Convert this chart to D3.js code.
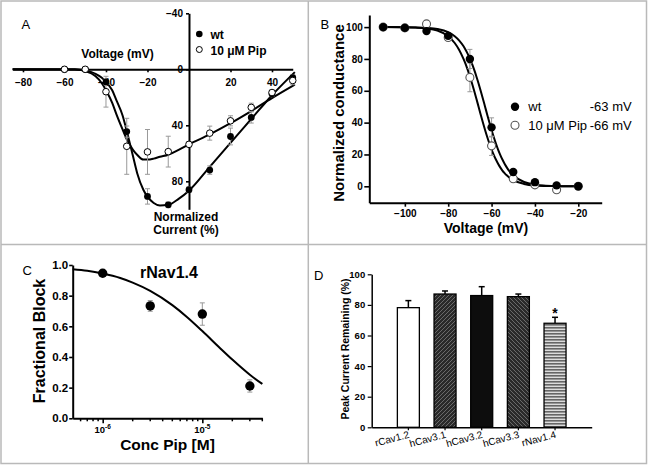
<!DOCTYPE html>
<html><head><meta charset="utf-8">
<script src="https://cdn.jsdelivr.net/npm/d3@7"></script>
<style>
body{margin:0;background:#fff;}
text{font-family:"Liberation Sans",Arial,Helvetica,sans-serif;fill:#000;}
</style></head>
<body><svg id="c" width="648" height="466"></svg>
<script>
// ---------- Panel A: I-V relationship ----------
const voltA = [-60,-50,-40,-30,-20,-10,0,10,20,30,40,50];
const wtA = [0,0,9,44.5,90.8,96.8,86,72,48,34.4,17.5,6];
const wtErrA = [0,0,2,4,5.5,2,2,3,6,4,2,2];
const pipA = [0,0,16,55,59,58.8,53.6,45.6,36.8,27.2,16.6,8];
const pipErrA = [0,0,11,20,16,11,2,5,3.6,3,2,3];
const fitVoltA = [-85,-55,-52,-50,-47,-45,-42,-40,-37,-35,-32,-30,-27,-25,-22,-20,-17,-14,-10,-5,0,10,20,30,40,51];
const wtFitA  = [0,0,0.3,0.8,2,3.2,6,9,15,22,33,44,62,74,86,91,95.5,97.3,96.8,92.5,86.7,69.7,52.5,35.5,18.5,2];
const pipFitA = [0,0.1,0.5,1.2,3,5,10,15,24,32,43,50,57.5,61,64.5,64.5,63.8,62.5,61,57.5,53.6,46.5,38.5,29.8,20.6,11];
const xTicksA = [-80,-60,-40,-20,20,40];
const yTicksA = [-40,0,40,80];

// ---------- Panel B: steady-state inactivation ----------
const voltB = [-110,-100,-90,-80,-70,-60,-50,-40,-30,-20];
const wtB = [100,99.5,97.5,94.5,80,37,9,2.6,0.6,0];
const wtErrB = [0,0,1,1,6,6,1,0.5,0.3,0];
const pipB = [100,99.5,102,93.5,68.4,25.4,4.7,0.9,-2.2,0];
const pipErrB = [0,0,1,1.5,9,6,1,0.5,0.5,0];
const fitVoltB = [-110,-100,-95,-90,-85,-80,-77,-75,-73,-72,-71,-70,-69,-68,-67,-66,-65,-64,-63,-62,-61,-60,-59,-58,-57,-56,-55,-54,-53,-52,-50,-45,-40,-35,-30,-20];
const wtFitB  = [100,99.9,99.8,99.5,98.8,96.8,94.3,91.7,88.1,85.8,83.2,80.2,76.9,73.1,69,64.6,59.9,55,50,45,40.1,35.4,31,26.9,23.1,19.8,16.8,14.2,11.9,9.9,6.9,2.7,1,0.4,0.1,0];
const pipFitB = [100,99.9,99.7,99.2,97.8,94.3,90,85.8,80.2,76.9,73.1,69,64.6,59.9,55,50,45,40.1,35.4,31,26.9,23.1,19.8,16.8,14.2,11.9,9.9,8.3,6.9,5.7,3.9,1.5,0.5,0.2,0.1,0];
const xTicksB = [-100,-80,-60,-40,-20];
const yTicksB = [0,20,40,60,80,100];
const legendB = [{name:"wt", v:"-63 mV", filled:true},{name:"10 \u03bcM Pip", v:"-66 mV", filled:false}];

// ---------- Panel C: concentration-response ----------
const concC = [1e-6,3e-6,1e-5,3e-5];
const blockC = [0.946,0.733,0.68,0.211];
const blockErrC = [0.01,0.035,0.073,0.04];
const fitConcC = [5e-7,7e-7,1e-6,1.5e-6,2e-6,3e-6,5e-6,7e-6,1e-5,1.5e-5,2e-5,3e-5,4e-5];
const fitBlockC = [0.972,0.962,0.944,0.915,0.885,0.831,0.738,0.661,0.569,0.459,0.383,0.284,0.224];
const majorTicksC = [1e-6,1e-5];
const majorExpC = ["-6","-5"];
const minorTicksC = [6e-7,7e-7,8e-7,9e-7,2e-6,3e-6,4e-6,5e-6,6e-6,7e-6,8e-6,9e-6,2e-5,3e-5,4e-5];
const yTicksC = [0,0.2,0.4,0.6,0.8,1.0];

// ---------- Panel D: bar chart ----------
const channelsD = ["rCav1.2","hCav3.1","hCav3.2","hCav3.3","rNav1.4"];
const remainD = [78.2,87.1,86.1,85.4,68];
const remainErrD = [4.6,2,5.8,1.7,3.9];
const fillsD = ["#ffffff","url(#hatchA)","#0d0d0d","url(#hatchB)","url(#stripes)"];
const yTicksD = [0,20,40,60,80,100];

const svg = d3.select("#c");
svg.append("rect").attr("width",648).attr("height",466).attr("fill","#fff");

// patterns
const defs = svg.append("defs");
const pA = defs.append("pattern").attr("id","hatchA").attr("patternUnits","userSpaceOnUse").attr("width",4).attr("height",4);
pA.append("rect").attr("width",4).attr("height",4).attr("fill","#2a2a2a");
pA.append("path").attr("d","M-1,1 L1,-1 M0,4 L4,0 M3,5 L5,3").attr("stroke","#6a6a6a").attr("stroke-width",1);
const pB = defs.append("pattern").attr("id","hatchB").attr("patternUnits","userSpaceOnUse").attr("width",4).attr("height",4);
pB.append("rect").attr("width",4).attr("height",4).attr("fill","#2a2a2a");
pB.append("path").attr("d","M-1,3 L1,5 M0,0 L4,4 M3,-1 L5,1").attr("stroke","#6a6a6a").attr("stroke-width",1);
const pS = defs.append("pattern").attr("id","stripes").attr("patternUnits","userSpaceOnUse").attr("width",4).attr("height",3);
pS.append("rect").attr("width",4).attr("height",3).attr("fill","#dcdcdc");
pS.append("rect").attr("width",4).attr("height",1.6).attr("fill","#666");

// frame
const frame = svg.append("g").attr("stroke","#b9b9b9").attr("stroke-width",1.5).attr("fill","none");
frame.append("rect").attr("x",1).attr("y",1).attr("width",645.5).attr("height",462.5);
frame.append("line").attr("x1",308.3).attr("x2",308.3).attr("y1",1).attr("y2",463.5);
frame.append("line").attr("x1",1).attr("x2",646.5).attr("y1",244.5).attr("y2",244.5);

function styleAxis(g, w, fs, bold){
  g.select(".domain").attr("stroke","#000").attr("stroke-width",w);
  g.selectAll(".tick line").attr("stroke","#000").attr("stroke-width",w*0.8);
  g.selectAll(".tick text").attr("font-size",fs).attr("font-weight",bold?"bold":"normal")
   .attr("font-family","Liberation Sans, Arial, sans-serif").attr("fill","#000");
}
function errBars(g, xs, ys, es, x, y, cap, color, w){
  xs.forEach((v,i)=>{
    if(!es[i]) return;
    const cx = x(v), y1 = y(ys[i]-es[i]), y2 = y(ys[i]+es[i]);
    g.append("line").attr("x1",cx).attr("x2",cx).attr("y1",y1).attr("y2",y2).attr("stroke",color).attr("stroke-width",w);
    [y1,y2].forEach(yy=>g.append("line").attr("x1",cx-cap).attr("x2",cx+cap).attr("y1",yy).attr("y2",yy).attr("stroke",color).attr("stroke-width",w));
  });
}

// ================= Panel A =================
{
  const g = svg.append("g");
  const x = d3.scaleLinear().domain([-85,50]).range([12.6,292.75]);
  const y = d3.scaleLinear().domain([-40,100]).range([13.3,209.3]);
  const xa = g.append("g").attr("transform",`translate(0,${y(0)})`)
    .call(d3.axisBottom(x).tickValues(xTicksA).tickSize(3).tickSizeOuter(0).tickPadding(7));
  styleAxis(xa,2,"10px",true);
  const ya = g.append("g").attr("transform",`translate(${x(0)},0)`)
    .call(d3.axisLeft(y).tickValues(yTicksA).tickSize(3).tickSizeOuter(0).tickPadding(3));
  styleAxis(ya,2,"10px",true);

  const line = d3.line().x((d,i)=>x(fitVoltA[i])).y(d=>y(d)).curve(d3.curveMonotoneX);
  g.append("path").attr("d",line(wtFitA)).attr("fill","none").attr("stroke","#000").attr("stroke-width",2);
  g.append("path").attr("d",line(pipFitA)).attr("fill","none").attr("stroke","#000").attr("stroke-width",2);

  errBars(g, voltA, wtA, wtErrA, x, y, 2.5, "#999", 1);
  errBars(g, voltA, pipA, pipErrA, x, y, 2.5, "#999", 1);
  g.selectAll(".wt").data(wtA).join("circle").attr("cx",(d,i)=>x(voltA[i])).attr("cy",d=>y(d)).attr("r",3.4).attr("fill","#000");
  g.selectAll(".pip").data(pipA).join("circle").attr("cx",(d,i)=>x(voltA[i])).attr("cy",d=>y(d)).attr("r",3.3)
    .attr("fill","#fff").attr("stroke","#000").attr("stroke-width",1);

  g.append("text").attr("x",21.5).attr("y",29).attr("font-size","13px").text("A");
  g.append("text").attr("x",117.5).attr("y",58).attr("text-anchor","middle").attr("font-size","12px").attr("font-weight","bold").text("Voltage (mV)");
  g.append("circle").attr("cx",199.3).attr("cy",34).attr("r",3.3).attr("fill","#000");
  g.append("circle").attr("cx",199.3).attr("cy",49.5).attr("r",3).attr("fill","#fff").attr("stroke","#000").attr("stroke-width",1);
  g.append("text").attr("x",210.5).attr("y",38.5).attr("font-size","12px").attr("font-weight","bold").text("wt");
  g.append("text").attr("x",210.5).attr("y",54.5).attr("font-size","12px").attr("font-weight","bold").text("10 \u03bcM Pip");
  g.append("text").attr("x",186).attr("y",220.5).attr("text-anchor","middle").attr("font-size","12px").attr("font-weight","bold").text("Normalized");
  g.append("text").attr("x",186).attr("y",234).attr("text-anchor","middle").attr("font-size","12px").attr("font-weight","bold").text("Current (%)");
}

// ================= Panel B =================
{
  const g = svg.append("g");
  const x = d3.scaleLinear().domain([-116.4,-9.2]).range([369.3,601.7]);
  const y = d3.scaleLinear().domain([-10.3,107.6]).range([202.7,15]);
  const xa = g.append("g").attr("transform",`translate(0,202.7)`)
    .call(d3.axisBottom(x).tickValues(xTicksB).tickSize(4).tickSizeOuter(0).tickPadding(3));
  styleAxis(xa,2,"10px",true);
  const ya = g.append("g").attr("transform",`translate(369.3,0)`)
    .call(d3.axisLeft(y).tickValues(yTicksB).tickSize(5).tickSizeOuter(0).tickPadding(1.5));
  styleAxis(ya,2,"10px",true);

  const line = d3.line().x((d,i)=>x(fitVoltB[i])).y(d=>y(d)).curve(d3.curveMonotoneX);
  g.append("path").attr("d",line(wtFitB)).attr("fill","none").attr("stroke","#000").attr("stroke-width",2);
  g.append("path").attr("d",line(pipFitB)).attr("fill","none").attr("stroke","#000").attr("stroke-width",2);

  errBars(g, voltB, pipB, pipErrB, x, y, 2.5, "#999", 1);
  errBars(g, voltB, wtB, wtErrB, x, y, 2.5, "#999", 1);
  g.selectAll(".pip").data(pipB).join("circle").attr("cx",(d,i)=>x(voltB[i])).attr("cy",d=>y(d)).attr("r",4)
    .attr("fill","#fff").attr("stroke","#555").attr("stroke-width",1.1);
  g.selectAll(".wt").data(wtB).join("circle").attr("cx",(d,i)=>x(voltB[i])).attr("cy",d=>y(d)).attr("r",4.2).attr("fill","#000");

  legendB.forEach((d,i)=>{
    const cy = 106.7 + i*18.5;
    g.append("circle").attr("cx",515).attr("cy",cy).attr("r",d.filled?4.2:4)
      .attr("fill",d.filled?"#000":"#fff").attr("stroke",d.filled?"none":"#555").attr("stroke-width",1.1);
    g.append("text").attr("x",528.3).attr("y",cy+4.7).attr("font-size","13px").text(d.name);
    g.append("text").attr("x",631.7).attr("y",cy+4.7).attr("text-anchor","end").attr("font-size","13px").text(d.v);
  });

  g.append("text").attr("x",320.5).attr("y",28.5).attr("font-size","13px").text("B");
  g.append("text").attr("transform","translate(338.5,113) rotate(-90)").attr("dy","0.35em").attr("text-anchor","middle")
    .attr("font-size","15px").attr("font-weight","bold").text("Normalized conductance");
  g.append("text").attr("x",486).attr("y",233).attr("text-anchor","middle").attr("font-size","14px").attr("font-weight","bold").text("Voltage (mV)");
}

// ================= Panel C =================
{
  const g = svg.append("g");
  const x = d3.scaleLog().domain([5e-7,4e-5]).range([72.7,262.3]);
  const y = d3.scaleLinear().domain([0,1]).range([418.3,265]);
  const ya = g.append("g").attr("transform",`translate(72.7,0)`)
    .call(d3.axisLeft(y).tickValues(yTicksC).tickFormat(d3.format(".1f")).tickSize(3.5).tickSizeOuter(0).tickPadding(1));
  styleAxis(ya,2,"11.5px",true);
  const xa = g.append("g").attr("transform",`translate(0,418.3)`)
    .call(d3.axisBottom(x).tickValues(majorTicksC).tickSize(5).tickSizeOuter(0).tickFormat(""));
  styleAxis(xa,2,"10px",true);
  minorTicksC.forEach(v=>{
    xa.append("line").attr("x1",x(v)).attr("x2",x(v)).attr("y1",0).attr("y2",3).attr("stroke","#000").attr("stroke-width",1.5);
  });
  majorTicksC.forEach((v,i)=>{
    const t = g.append("text").attr("x",x(v)).attr("y",432.5).attr("text-anchor","middle").attr("font-size","9.5px").attr("font-weight","bold");
    t.append("tspan").text("10");
    t.append("tspan").attr("font-size","6.5px").attr("dy","-4").text(majorExpC[i]);
  });

  const line = d3.line().x((d,i)=>x(fitConcC[i])).y(d=>y(d)).curve(d3.curveMonotoneX);
  g.append("path").attr("d",line(fitBlockC)).attr("fill","none").attr("stroke","#000").attr("stroke-width",2);
  errBars(g, concC, blockC, blockErrC, x, y, 2.5, "#999", 1);
  g.selectAll(".pt").data(blockC).join("circle").attr("cx",(d,i)=>x(concC[i])).attr("cy",d=>y(d)).attr("r",4.7).attr("fill","#000");

  g.append("text").attr("x",22.5).attr("y",275).attr("font-size","13px").text("C");
  g.append("text").attr("x",169).attr("y",278.3).attr("text-anchor","middle").attr("font-size","16px").attr("font-weight","bold").text("rNav1.4");
  g.append("text").attr("transform","translate(39,341) rotate(-90)").attr("dy","0.35em").attr("text-anchor","middle")
    .attr("font-size","16px").attr("font-weight","bold").text("Fractional Block");
  g.append("text").attr("x",167.5).attr("y",450).attr("text-anchor","middle").attr("font-size","15.5px").attr("font-weight","bold").text("Conc Pip [M]");
}

// ================= Panel D =================
{
  const g = svg.append("g");
  const x = d3.scaleBand().domain(channelsD).range([371.7,591.7]).paddingInner(0.4).paddingOuter(0.7);
  const y = d3.scaleLinear().domain([0,100]).range([427.3,274.3]);
  const ya = g.append("g").attr("transform",`translate(371.7,0)`)
    .call(d3.axisLeft(y).tickValues(yTicksD).tickSize(4).tickSizeOuter(0).tickPadding(2.5));
  styleAxis(ya,1.5,"9.5px",true);

  g.selectAll(".err").data(remainD).join("g").each(function(d,i){
    const cx = x(channelsD[i]) + x.bandwidth()/2;
    const s = d3.select(this);
    s.append("line").attr("x1",cx).attr("x2",cx).attr("y1",y(d)).attr("y2",y(d+remainErrD[i])).attr("stroke","#000").attr("stroke-width",1.5);
    s.append("line").attr("x1",cx-3).attr("x2",cx+3).attr("y1",y(d+remainErrD[i])).attr("y2",y(d+remainErrD[i])).attr("stroke","#000").attr("stroke-width",1.5);
  });
  g.selectAll(".bar").data(remainD).join("rect")
    .attr("x",(d,i)=>x(channelsD[i])).attr("width",x.bandwidth())
    .attr("y",d=>y(d)).attr("height",d=>y(0)-y(d))
    .attr("fill",(d,i)=>fillsD[i]).attr("stroke","#000").attr("stroke-width",1.3);

  const xa = g.append("g").attr("transform",`translate(0,427.3)`)
    .call(d3.axisBottom(x).tickSize(3).tickSizeOuter(0).tickFormat(""));
  styleAxis(xa,1.5,"10px",false);
  channelsD.forEach(c=>{
    const cx = x(c) + x.bandwidth()/2;
    g.append("text").attr("transform",`translate(${cx+1.5},437.5) rotate(-15)`).attr("text-anchor","end")
      .attr("font-size","10px").text(c);
  });
  const iStar = channelsD.indexOf("rNav1.4");
  g.append("text").attr("x",x(channelsD[iStar])+x.bandwidth()/2).attr("y",y(remainD[iStar]+remainErrD[iStar])+1)
    .attr("text-anchor","middle").attr("font-size","14px").attr("font-weight","bold").text("*");

  g.append("text").attr("x",314).attr("y",280).attr("font-size","13px").text("D");
  g.append("text").attr("transform","translate(345,349) rotate(-90)").attr("dy","0.35em").attr("text-anchor","middle")
    .attr("font-size","10.5px").attr("font-weight","bold").text("Peak Current Remaining (%)");
}
</script></body></html>
